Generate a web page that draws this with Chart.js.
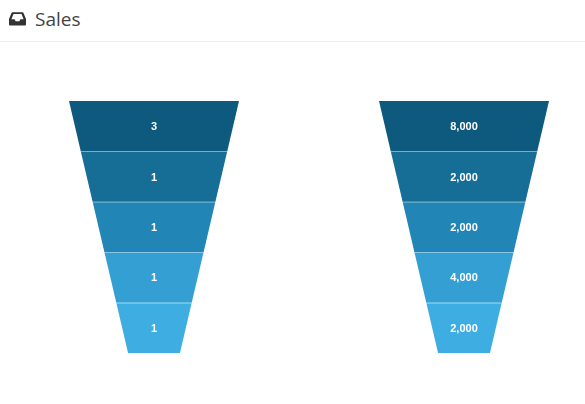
<!DOCTYPE html>
<html>
<head>
<meta charset="utf-8">
<script src="https://cdn.jsdelivr.net/npm/chart.js@4/dist/chart.umd.min.js"></script>
<style>
  html, body { margin: 0; padding: 0; background: #fff; width: 585px; height: 404px; overflow: hidden; }
  #header { position: absolute; left: 0; top: 0; width: 585px; height: 41px; border-bottom: 1px solid #eeeeee; }
  #header svg { position: absolute; left: 9px; top: 12px; }
  #title { position: absolute; left: 35px; top: 6px; font-family: "Open Sans", sans-serif; font-size: 19px; color: #444; line-height: 26px; }
  #wrap { position: absolute; left: 0; top: 42px; width: 585px; height: 362px; }
</style>
</head>
<body>
<div id="header">
  <svg width="17" height="14" viewBox="0 0 17 14">
    <path d="M3.4 0.3 H13.6 Q14.2 0.3 14.5 0.9 L17 7 V12.6 Q17 13.6 16 13.6 H1 Q0 13.6 0 12.6 V7 L2.5 0.9 Q2.8 0.3 3.4 0.3 Z M4.5 2.1 L2.4 7.3 H5.6 L6.6 9.2 H10.4 L11.4 7.3 H14.6 L12.5 2.1 Z" fill="#333" fill-rule="evenodd"/>
  </svg>
  <div id="title">Sales</div>
</div>
<div id="wrap"><canvas id="c"></canvas></div>
<script>
// ---- data ----
const stages = ['Stage 1', 'Stage 2', 'Stage 3', 'Stage 4', 'Stage 5'];
const funnelA = [3, 1, 1, 1, 1];
const funnelB = [8000, 2000, 2000, 4000, 2000];
const stageColors = ['#0e5a7f', '#166e97', '#2185b5', '#339fd2', '#3eade1'];

// ---- geometry (in x-scale units; one unit = distance between funnel centres) ----
const TOP_HALF = 0.2742;     // half width at top of funnel
const STEP = 0.0381;         // narrowing per stage on each side

function buildData(idx) {
  return stages.map((s, i) => ({ y: s, x: [idx - (TOP_HALF - STEP * i), idx + (TOP_HALF - STEP * i)] }));
}

const funnelPlugin = {
  id: 'funnel',
  beforeDatasetsDraw(chart) {
    const ctx = chart.ctx;
    const xs = chart.scales.x;
    chart.data.datasets.forEach((ds, di) => {
      const meta = chart.getDatasetMeta(di);
      meta.data.forEach((bar, i) => {
        const top = bar.y - bar.height / 2;
        const bot = bar.y + bar.height / 2;
        const c = di;
        const hTop = TOP_HALF - STEP * i;
        const hBot = TOP_HALF - STEP * (i + 1);
        const tl = xs.getPixelForValue(c - hTop), tr = xs.getPixelForValue(c + hTop);
        const bl = xs.getPixelForValue(c - hBot), br = xs.getPixelForValue(c + hBot);
        ctx.save();
        ctx.beginPath();
        ctx.moveTo(tl, top); ctx.lineTo(tr, top); ctx.lineTo(br, bot); ctx.lineTo(bl, bot);
        ctx.closePath();
        ctx.fillStyle = stageColors[i];
        ctx.fill();
        if (i > 0) {
          ctx.beginPath();
          ctx.moveTo(tl, Math.round(top) + 0.5);
          ctx.lineTo(tr, Math.round(top) + 0.5);
          ctx.strokeStyle = 'rgba(255,255,255,0.28)';
          ctx.lineWidth = 1;
          ctx.stroke();
        }
        ctx.fillStyle = '#ffffff';
        ctx.font = 'bold 11px "Liberation Sans", Arial, sans-serif';
        ctx.textAlign = 'center';
        ctx.textBaseline = 'middle';
        ctx.fillText(ds.values[i].toLocaleString('en-US'), xs.getPixelForValue(c), bar.y + 1);
        ctx.restore();
      });
    });
    return false;
  },
  beforeDatasetDraw() { return false; }
};

new Chart(document.getElementById('c'), {
  type: 'bar',
  data: {
    labels: stages,
    datasets: [
      { label: 'Funnel A', data: buildData(0), values: funnelA, backgroundColor: 'rgba(0,0,0,0)' },
      { label: 'Funnel B', data: buildData(1), values: funnelB, backgroundColor: 'rgba(0,0,0,0)' }
    ]
  },
  options: {
    indexAxis: 'y',
    responsive: true,
    maintainAspectRatio: false,
    animation: false,
    grouped: false,
    barPercentage: 1,
    categoryPercentage: 1,
    layout: { padding: { top: 59, bottom: 51, left: 0, right: 0 } },
    plugins: { legend: { display: false }, tooltip: { enabled: false } },
    scales: {
      x: { type: 'linear', min: -0.4968, max: 1.3903, display: false },
      y: { type: 'category', display: false, offset: true }
    }
  },
  plugins: [funnelPlugin]
});
</script>
</body>
</html>
